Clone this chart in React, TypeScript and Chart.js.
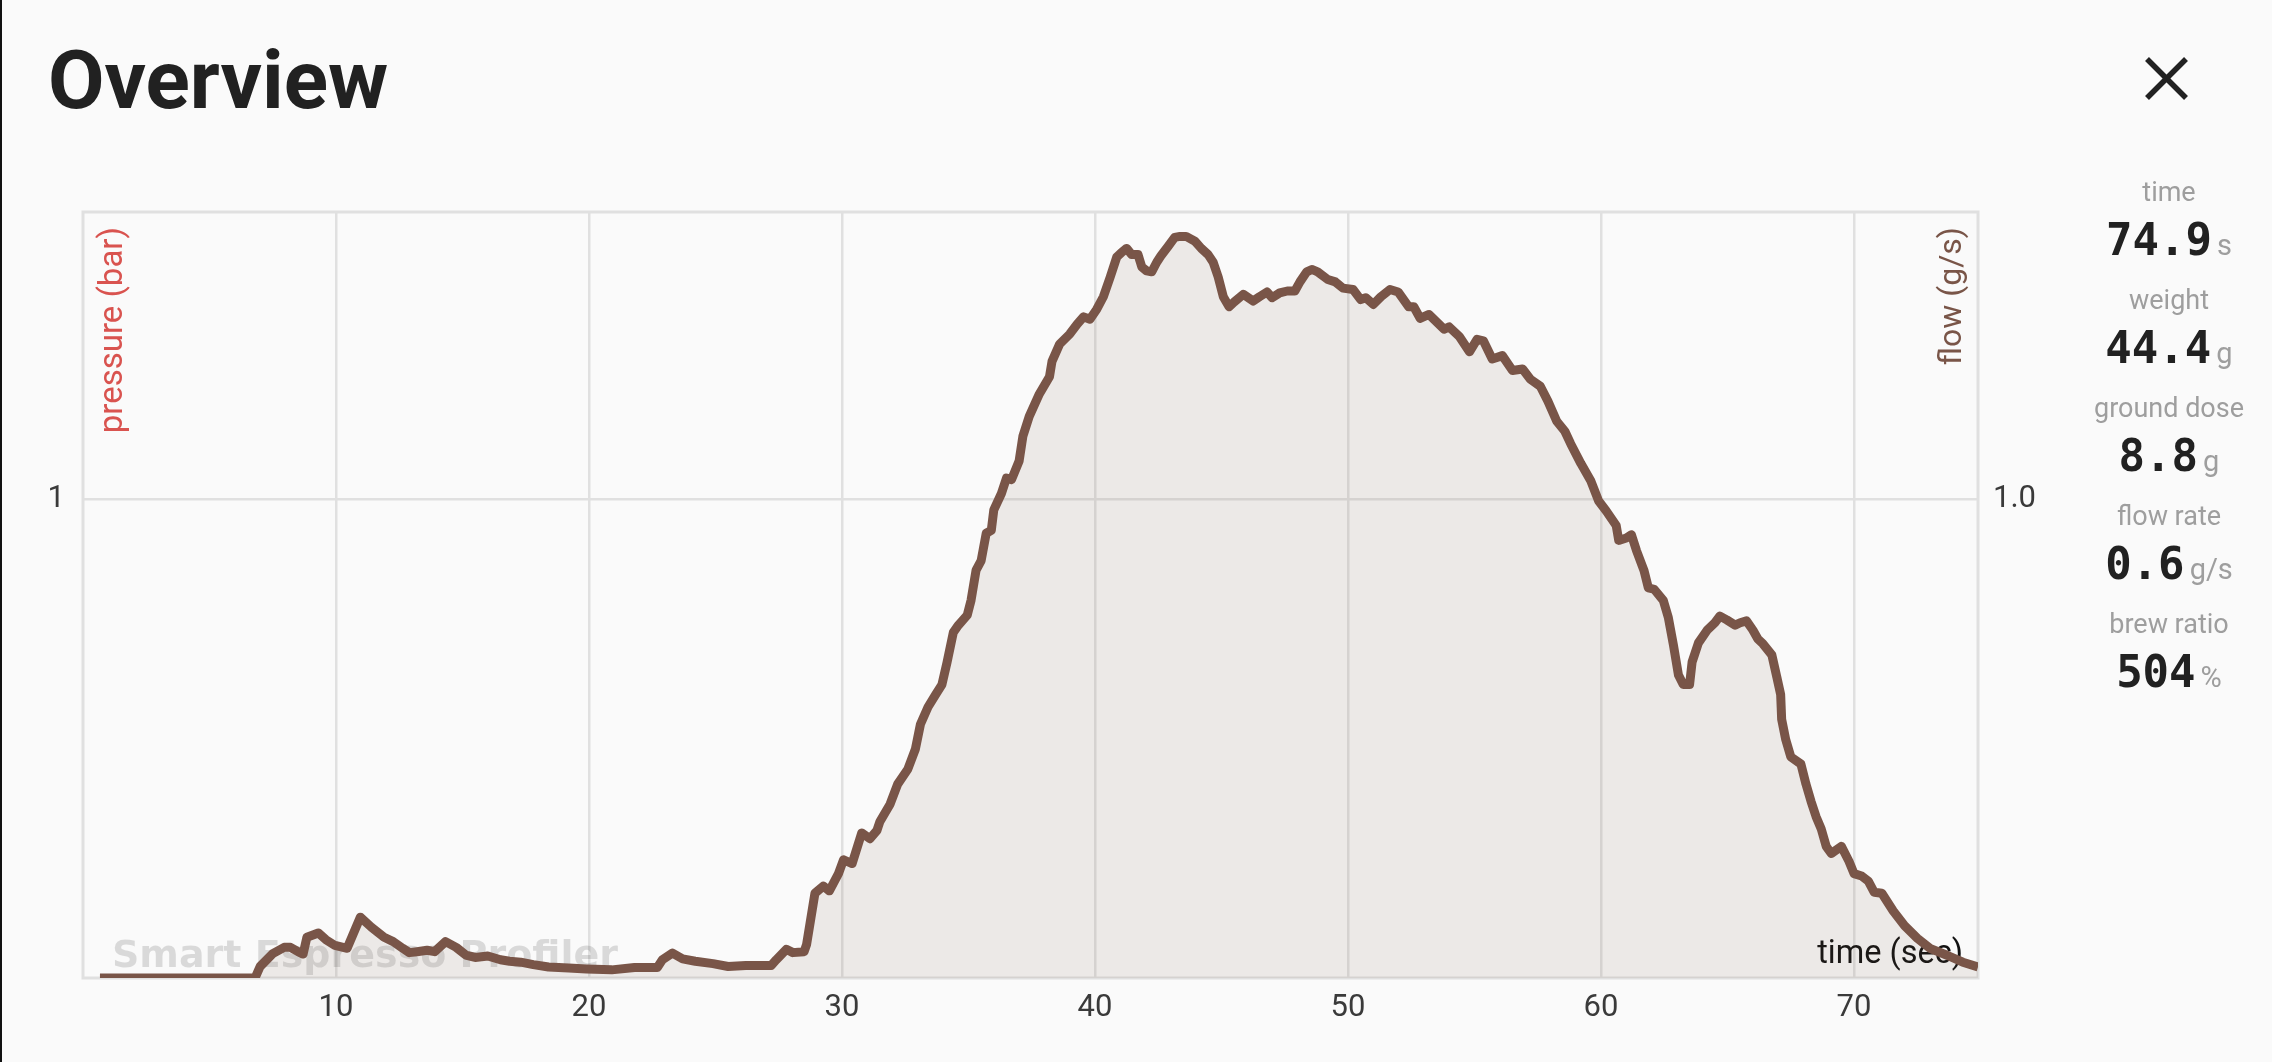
import React, { useEffect, useRef } from 'react';
import { Chart, registerables } from 'chart.js';

Chart.register(...registerables);

// ---- data ----
const timeSec: number[] = [
  0.67, 6.8, 7.0, 7.5, 7.95, 8.2, 8.5, 8.7, 8.85, 9.3, 9.6, 9.96, 10.44, 10.96, 11.4, 11.9, 12.26, 12.64, 12.9, 13.2,
  13.6, 13.9, 14.33, 14.75, 15.13, 15.5, 16.0, 16.5, 16.86, 17.3, 17.8, 18.4, 19.2, 19.9, 20.9, 21.8, 22.7, 22.9, 23.3, 23.7,
  24.2, 24.9, 25.5, 26.2, 27.2, 27.4, 27.8, 28.06, 28.5, 28.6, 28.93, 29.26, 29.5, 29.86, 30.06, 30.4, 30.78, 31.1, 31.38, 31.5,
  31.9, 32.2, 32.6, 32.9, 33.1, 33.4, 33.7, 33.95, 34.15, 34.4, 34.6, 34.95, 35.1, 35.3, 35.5, 35.7, 35.9, 36.0, 36.3, 36.5,
  36.7, 37.0, 37.15, 37.4, 37.8, 38.2, 38.3, 38.6, 39.0, 39.3, 39.55, 39.8, 40.07, 40.33, 40.6, 40.86, 41.06, 41.25, 41.45, 41.7,
  41.85, 42.04, 42.24, 42.44, 42.6, 42.9, 43.15, 43.36, 43.6, 43.95, 44.2, 44.47, 44.67, 44.87, 45.07, 45.3, 45.5, 45.86, 46.25, 46.5,
  46.8, 47.0, 47.3, 47.6, 47.9, 48.1, 48.37, 48.57, 48.8, 49.2, 49.5, 49.8, 50.2, 50.5, 50.7, 51.0, 51.3, 51.66, 51.98, 52.4,
  52.6, 52.85, 53.2, 53.8, 54.0, 54.4, 54.8, 55.1, 55.35, 55.7, 56.1, 56.5, 56.9, 57.2, 57.6, 57.9, 58.25, 58.57, 58.8, 59.2,
  59.6, 59.9, 60.2, 60.6, 60.7, 61.0, 61.2, 61.4, 61.7, 61.87, 62.1, 62.46, 62.66, 62.86, 63.06, 63.25, 63.5, 63.6, 63.85, 64.2,
  64.5, 64.7, 64.97, 65.3, 65.5, 65.75, 66.0, 66.2, 66.4, 66.75, 66.95, 67.1, 67.14, 67.3, 67.5, 67.9, 68.1, 68.3, 68.5, 68.7,
  68.9, 69.1, 69.5, 69.8, 70.0, 70.3, 70.57, 70.8, 71.1, 71.55, 72.0, 72.5, 73.0, 73.7, 74.3, 74.9,
];

const flowGs: number[] = [
  0, 0, 0.024, 0.051, 0.064, 0.064, 0.055, 0.05, 0.085, 0.094, 0.08, 0.068, 0.062, 0.127, 0.106, 0.085, 0.076, 0.062, 0.053, 0.055,
  0.058, 0.055, 0.076, 0.064, 0.048, 0.043, 0.046, 0.038, 0.035, 0.033, 0.028, 0.023, 0.021, 0.019, 0.017, 0.022, 0.022, 0.038, 0.052, 0.04,
  0.035, 0.03, 0.024, 0.026, 0.026, 0.038, 0.06, 0.053, 0.055, 0.07, 0.177, 0.192, 0.182, 0.218, 0.247, 0.239, 0.303, 0.291, 0.308, 0.327,
  0.363, 0.405, 0.436, 0.478, 0.53, 0.566, 0.592, 0.613, 0.659, 0.722, 0.737, 0.758, 0.789, 0.852, 0.872, 0.929, 0.935, 0.978, 1.012, 1.044,
  1.041, 1.08, 1.132, 1.173, 1.22, 1.256, 1.288, 1.324, 1.345, 1.366, 1.381, 1.376, 1.397, 1.423, 1.464, 1.506, 1.516, 1.524, 1.511, 1.511,
  1.485, 1.477, 1.475, 1.495, 1.508, 1.529, 1.547, 1.549, 1.549, 1.539, 1.524, 1.511, 1.495, 1.464, 1.423, 1.402, 1.412, 1.428, 1.414, 1.423,
  1.433, 1.421, 1.431, 1.435, 1.435, 1.454, 1.475, 1.48, 1.475, 1.459, 1.454, 1.441, 1.438, 1.417, 1.421, 1.407, 1.423, 1.438, 1.433, 1.402,
  1.402, 1.378, 1.386, 1.355, 1.36, 1.34, 1.308, 1.334, 1.331, 1.293, 1.3, 1.269, 1.272, 1.251, 1.236, 1.205, 1.163, 1.142, 1.116, 1.075,
  1.038, 0.997, 0.976, 0.945, 0.914, 0.919, 0.926, 0.893, 0.851, 0.815, 0.812, 0.789, 0.753, 0.696, 0.633, 0.613, 0.613, 0.66, 0.7, 0.727,
  0.742, 0.756, 0.748, 0.737, 0.742, 0.746, 0.727, 0.708, 0.698, 0.675, 0.628, 0.592, 0.54, 0.498, 0.462, 0.447, 0.405, 0.369, 0.337, 0.312,
  0.275, 0.26, 0.275, 0.244, 0.218, 0.213, 0.202, 0.179, 0.177, 0.14, 0.109, 0.083, 0.062, 0.047, 0.033, 0.023,
];

const xTickValues: number[] = [10, 20, 30, 40, 50, 60, 70];
const yTickValues: number[] = [1];
const xMax = 74.9;
const yMax = 1.6;

const statLabels: string[] = ['time', 'weight', 'ground dose', 'flow rate', 'brew ratio'];
const statValues: string[] = ['74.9', '44.4', '8.8', '0.6', '504'];
const statUnits: string[] = ['s', 'g', 'g', 'g/s', '%'];

const BROWN = '#795548';

const framePlugin = {
  id: 'frameAndTitles',
  beforeDatasetsDraw(chart: any) {
    const { ctx, chartArea } = chart;
    const { left, top, right, bottom } = chartArea;
    ctx.save();
    ctx.strokeStyle = '#e0e0e0';
    ctx.lineWidth = 3;
    ctx.strokeRect(left, top, right - left, bottom - top);

    ctx.font = 'bold 38px "DejaVu Sans"';
    ctx.fillStyle = 'rgba(0,0,0,0.13)';
    ctx.textAlign = 'left';
    ctx.textBaseline = 'alphabetic';
    ctx.fillText('Smart Espresso Profiler', left + 29, bottom - 11);

    ctx.font = '32.5px Roboto';
    ctx.fillStyle = '#111111';
    ctx.textAlign = 'right';
    ctx.fillText('time (sec)', right - 15, bottom - 15);
    ctx.restore();

    ctx.save();
    ctx.translate(left + 39, top + 15);
    ctx.rotate(-Math.PI / 2);
    ctx.font = '33px Roboto';
    ctx.fillStyle = '#d9534f';
    ctx.textAlign = 'right';
    ctx.textBaseline = 'alphabetic';
    ctx.fillText('pressure (bar)', 0, 0);
    ctx.restore();

    ctx.save();
    ctx.translate(right - 17, top + 15);
    ctx.rotate(-Math.PI / 2);
    ctx.font = '32px Roboto';
    ctx.fillStyle = BROWN;
    ctx.textAlign = 'right';
    ctx.textBaseline = 'alphabetic';
    ctx.fillText('flow (g/s)', 0, 0);
    ctx.restore();
  },
};

function FlowChart() {
  const ref = useRef<HTMLCanvasElement | null>(null);
  useEffect(() => {
    const canvas = ref.current;
    if (!canvas) return;
    const tickFont = { family: 'Roboto', size: 31 };
    const chart = new Chart(canvas, {
      type: 'line',
      data: {
        datasets: [
          {
            label: 'flow',
            data: timeSec.map((t, i) => ({ x: t, y: flowGs[i] })),
            borderColor: BROWN,
            backgroundColor: 'rgba(121,85,72,0.1)',
            fill: 'origin',
            borderWidth: 9,
            pointRadius: 0,
            tension: 0,
            borderJoinStyle: 'round',
            yAxisID: 'flow',
          } as any,
        ],
      },
      options: {
        responsive: false,
        animation: false,
        devicePixelRatio: 1,
        layout: { padding: { left: 0, top: 212, right: 194, bottom: 0 } },
        plugins: { legend: { display: false }, tooltip: { enabled: false } },
        scales: {
          x: {
            type: 'linear',
            min: 0,
            max: xMax,
            afterBuildTicks: (s: any) => {
              s.ticks = xTickValues.map((v) => ({ value: v }));
            },
            afterFit: (s: any) => {
              s.height = 84;
            },
            grid: { color: '#e0e0e0', lineWidth: 2.5, drawTicks: false },
            border: { display: false },
            ticks: {
              font: tickFont,
              color: '#3a3a3a',
              padding: 12,
              maxRotation: 0,
              autoSkip: false,
              callback: (v: any) => String(v),
            },
          },
          pressure: {
            type: 'linear',
            position: 'left',
            min: 0,
            max: yMax,
            afterBuildTicks: (s: any) => {
              s.ticks = yTickValues.map((v) => ({ value: v }));
            },
            afterFit: (s: any) => {
              s.width = 83;
            },
            grid: { color: '#e0e0e0', lineWidth: 2.5, drawTicks: false },
            border: { display: false },
            ticks: { font: tickFont, color: '#3a3a3a', padding: 18, callback: (v: any) => String(v) },
          },
          flow: {
            type: 'linear',
            position: 'right',
            min: 0,
            max: yMax,
            afterBuildTicks: (s: any) => {
              s.ticks = yTickValues.map((v) => ({ value: v }));
            },
            afterFit: (s: any) => {
              s.width = 100;
            },
            grid: { display: false, drawTicks: false },
            border: { display: false },
            ticks: { font: tickFont, color: '#3a3a3a', padding: 15, callback: (v: any) => Number(v).toFixed(1) },
          },
        },
      } as any,
      plugins: [framePlugin],
    });
    return () => chart.destroy();
  }, []);
  return (
    <canvas
      ref={ref}
      width={2272}
      height={1062}
      style={{ position: 'absolute', left: 0, top: 0, width: 2272, height: 1062 }}
    />
  );
}

function StatsPanel() {
  return (
    <>
      {statLabels.map((label, i) => {
        const labelBase = 202 + 108 * i;
        const valueBase = 255 + 108 * i;
        return (
          <React.Fragment key={label}>
            <div
              style={{
                position: 'absolute',
                left: 2069,
                width: 200,
                top: labelBase - Math.round(0.842 * 27),
                textAlign: 'center',
                fontFamily: 'Roboto',
                fontSize: 27,
                lineHeight: '27px',
                color: '#9e9e9e',
                whiteSpace: 'nowrap',
              }}
            >
              {label}
            </div>
            <div
              style={{
                position: 'absolute',
                left: 2069,
                width: 200,
                top: valueBase - Math.round(0.846 * 44),
                textAlign: 'center',
                fontFamily: '"DejaVu Sans Mono"',
                fontWeight: 700,
                fontSize: 44,
                lineHeight: '44px',
                color: '#212121',
                whiteSpace: 'nowrap',
              }}
            >
              {statValues[i]}
              <span
                style={{
                  fontFamily: 'Roboto',
                  fontWeight: 400,
                  fontSize: 29,
                  lineHeight: '29px',
                  color: '#9e9e9e',
                  marginLeft: 5,
                }}
              >
                {statUnits[i]}
              </span>
            </div>
          </React.Fragment>
        );
      })}
    </>
  );
}

export default function App() {
  return (
    <div
      style={{
        position: 'absolute',
        left: 0,
        top: 0,
        width: 2272,
        height: 1062,
        background: '#fafafa',
        overflow: 'hidden',
      }}
    >
      <FlowChart />
      <div style={{ position: 'absolute', left: 0, top: 0, width: 2, height: 1062, background: '#111' }} />
      <div
        style={{
          position: 'absolute',
          left: 48,
          top: 108 - Math.round(0.842 * 82),
          fontFamily: 'Roboto',
          fontWeight: 700,
          fontSize: 82,
          lineHeight: '82px',
          color: '#212121',
          whiteSpace: 'nowrap',
        }}
      >
        Overview
      </div>
      <svg
        width={43}
        height={43}
        viewBox="0 0 43 43"
        style={{ position: 'absolute', left: 2145, top: 57 }}
      >
        <line x1={2} y1={2} x2={41} y2={41} stroke="#212121" strokeWidth={5.5} />
        <line x1={41} y1={2} x2={2} y2={41} stroke="#212121" strokeWidth={5.5} />
      </svg>
      <StatsPanel />
    </div>
  );
}
